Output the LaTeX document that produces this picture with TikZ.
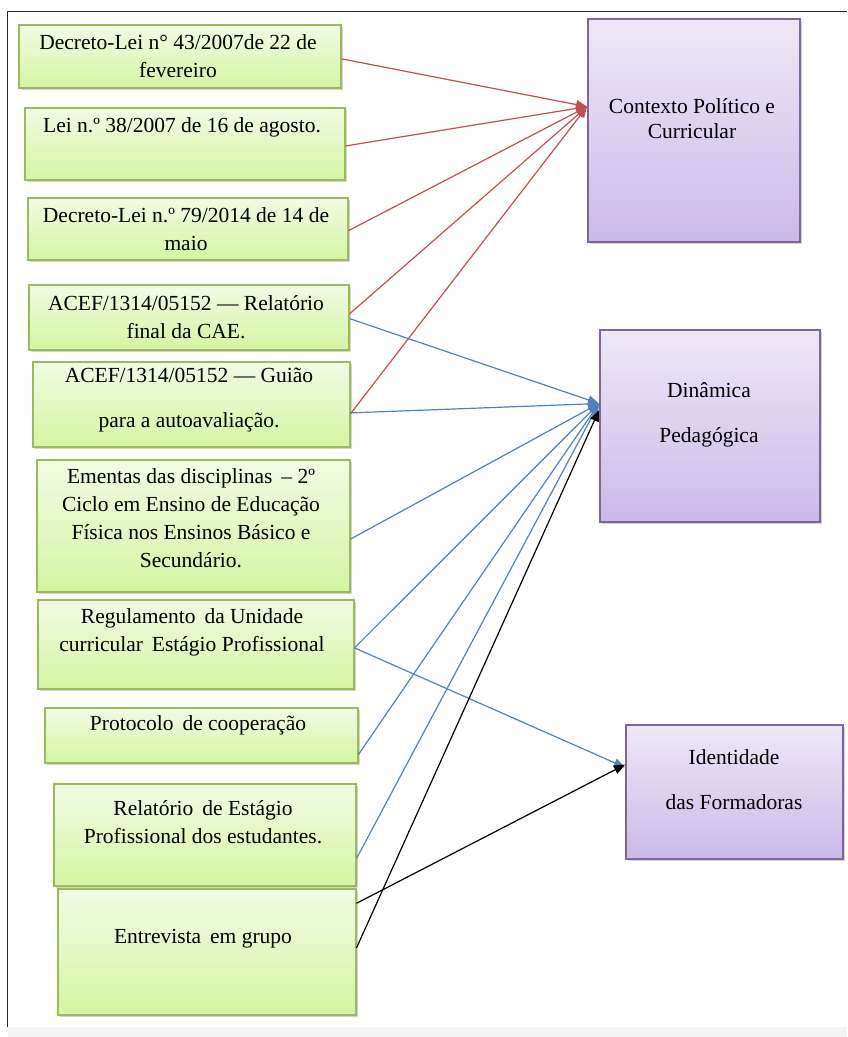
\documentclass[tikz,border=0pt]{standalone}
\usepackage{fontspec}
\setmainfont{Liberation Serif}
\usetikzlibrary{arrows.meta,shadows,calc}
\definecolor{gborder}{RGB}{155,187,89}
\definecolor{gtop}{RGB}{242,251,228}
\definecolor{gbot}{RGB}{212,245,162}
\definecolor{pborder}{RGB}{128,100,162}
\definecolor{ptop}{RGB}{238,232,246}
\definecolor{pbot}{RGB}{202,186,232}
\definecolor{ared}{RGB}{192,80,77}
\definecolor{ablue}{RGB}{79,129,189}
\definecolor{band}{RGB}{243,243,243}
\tikzset{
  gbox/.style={draw=gborder, line width=1.5pt, top color=gtop, bottom color=gbot,
    drop shadow={shadow xshift=2pt, shadow yshift=-2.5pt, opacity=0.35, fill=gray},
    inner sep=0pt, anchor=north west},
  pbox/.style={draw=pborder, line width=1.5pt, top color=ptop, bottom color=pbot,
    drop shadow={shadow xshift=2pt, shadow yshift=-2.5pt, opacity=0.35, fill=gray},
    inner sep=0pt, anchor=north west},
  txt/.style={align=center, inner sep=0pt, font=\fontsize{21.5}{28}\selectfont},
  wtxt/.style={align=center, inner sep=0pt, font=\fontsize{21.5}{45}\selectfont},
  arr/.style={-{Triangle[length=11pt,width=9pt]}, line width=1.2pt},
}
\begin{document}
\begin{tikzpicture}[x=1pt,y=-1pt]
\useasboundingbox (0,0) rectangle (847,1037);
\fill[band] (8,1027) rectangle (847,1037);
\draw[line width=1pt, black!85] (7,1027) -- (7,11) -- (847,11);

% left boxes
\node[gbox, minimum width=322pt, minimum height=63pt] (b1) at (18,24) {};
\node[gbox, minimum width=320pt, minimum height=72pt] (b2) at (24,107) {};
\node[gbox, minimum width=320pt, minimum height=62pt] (b3) at (27,197) {};
\node[gbox, minimum width=320pt, minimum height=65pt] (b4) at (28,284) {};
\node[gbox, minimum width=317pt, minimum height=85pt] (b5) at (32,361) {};
\node[gbox, minimum width=313pt, minimum height=132pt] (b6) at (36,459) {};
\node[gbox, minimum width=316pt, minimum height=89pt] (b7) at (37,599) {};
\node[gbox, minimum width=313pt, minimum height=55pt] (b8) at (44,707) {};
\node[gbox, minimum width=302pt, minimum height=102pt] (b9) at (53,783) {};
\node[gbox, minimum width=298pt, minimum height=126pt] (b10) at (57,888) {};

% right boxes
\node[pbox, minimum width=212pt, minimum height=223pt] (ctx) at (587,18) {};
\node[pbox, minimum width=220pt, minimum height=192pt] (din) at (599,329) {};
\node[pbox, minimum width=217pt, minimum height=134pt] (ide) at (625,724) {};

% texts
\node[txt] (t1) at (178,56) {Decreto-Lei n° 43/2007de 22 de\\fevereiro};
\node[txt] (t2) at (182,127) {Lei n.º 38/2007 de 16 de agosto.};
\node[txt] (t3) at (186,229) {Decreto-Lei n.º 79/2014 de 14 de\\maio};
\node[txt] (t4) at (186,317) {ACEF/1314/05152 — Relatório\\final da CAE.};
\node[txt, wtxt] (t5) at (189,400) {ACEF/1314/05152 — Guião\\para a autoavaliação.};
\node[txt] (t6) at (191,518) {Ementas das disciplinas \,– 2º\\Ciclo em Ensino de Educação\\Física nos Ensinos Básico e\\Secundário.};
\node[txt] (t7) at (192,632) {Regulamento \,da Unidade\\curricular \,Estágio Profissional};
\node[txt] (t8) at (198,725) {Protocolo \,de cooperação};
\node[txt] (t9) at (203,822) {Relatório \,de Estágio\\Profissional dos estudantes.};
\node[txt] (t10) at (203,939) {Entrevista \,em grupo};
\node[txt, font=\fontsize{21.5}{25}\selectfont] (tc) at (692,119) {Contexto Político e\\Curricular};
\node[wtxt] (td) at (709,415) {Dinâmica\\Pedagógica};
\node[wtxt] (ti) at (734,780) {Identidade\\das Formadoras};

% red connectors
\coordinate (ctxin) at ($(ctx.north west)!0.395!(ctx.south west)$);
\draw[arr, ared] ($(b1.north east)!0.54!(b1.south east)$) -- (ctxin);
\draw[arr, ared] ($(b2.north east)!0.53!(b2.south east)$) -- (ctxin);
\draw[arr, ared] ($(b3.north east)!0.53!(b3.south east)$) -- (ctxin);
\draw[arr, ared] ($(b4.north east)!0.45!(b4.south east)$) -- (ctxin);
\draw[arr, ared] ($(b5.north east)!0.61!(b5.south east)$) -- (ctxin);

% blue connectors
\coordinate (dinin) at ($(din.north west)!0.385!(din.south west)$);
\draw[arr, ablue] ($(b4.north east)!0.52!(b4.south east)$) -- (dinin);
\draw[arr, ablue] ($(b5.north east)!0.60!(b5.south east)$) -- (dinin);
\draw[arr, ablue] ($(b6.north east)!0.60!(b6.south east)$) -- (dinin);
\draw[arr, ablue] ($(b7.north east)!0.54!(b7.south east)$) -- (dinin);
\draw[arr, ablue] ($(b8.north east)!0.84!(b8.south east)$) -- (dinin);
\draw[arr, ablue] ($(b9.north east)!0.73!(b9.south east)$) -- (dinin);
\draw[arr, ablue] ($(b7.north east)!0.54!(b7.south east)$) -- ($(ide.north west)!0.32!(ide.south west)$);

% black connectors
\draw[arr, black] ($(b10.north east)!0.47!(b10.south east)$) -- ($(din.north west)!0.42!(din.south west)$);
\draw[arr, black] ($(b10.north east)!0.12!(b10.south east)$) -- ($(ide.north west)!0.30!(ide.south west)$);
\end{tikzpicture}
\end{document}
